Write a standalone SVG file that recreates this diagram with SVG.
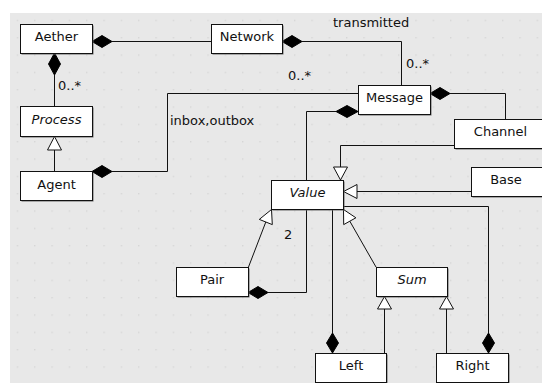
<svg xmlns="http://www.w3.org/2000/svg" width="542" height="383" viewBox="0 0 542 383">
<style>
.box{fill:#fff;stroke:#111;stroke-width:1}
.sh{fill:#666}
.t{font-family:"DejaVu Sans",sans-serif;font-size:13px;fill:#111;text-anchor:middle}
.i{font-style:italic}
.lbl{font-family:"DejaVu Sans",sans-serif;font-size:13px;fill:#111}
.ln{fill:none;stroke:#111;stroke-width:1}
.dia{fill:#000;stroke:#000;stroke-width:1}
.gen{fill:#fff;stroke:#111;stroke-width:1}
</style>
<defs>
<pattern id="grid" x="10" y="13" width="17.33" height="17.33" patternUnits="userSpaceOnUse">
<rect x="7" y="7" width="1" height="1" fill="#c4c4c4"/>
</pattern>
</defs>
<rect x="0" y="0" width="542" height="383" fill="#fff"/>
<rect x="10" y="13" width="532" height="370" fill="#e8e8e8"/>
<rect x="10" y="13" width="532" height="370" fill="url(#grid)"/>
<g id="connectors">
<path class="ln" d="M112,41.5 H211"/>
<polygon class="dia" points="92,41.5 102,35.5 112,41.5 102,47.5"/>
<path class="ln" d="M302,41.5 H401.5 V85"/>
<polygon class="dia" points="282,41.5 292,35.5 302,41.5 292,47.5"/>
<path class="ln" d="M54.5,75 V106"/>
<polygon class="dia" points="54.5,53 60.5,64 54.5,75 48.5,64"/>
<path class="ln" d="M54.5,150 V171"/>
<polygon class="gen" points="54.5,136.5 61.5,150 47.5,150"/>
<path class="ln" d="M112,171.5 H167.5 V93.5 H358"/>
<polygon class="dia" points="92,171.5 102,165.5 112,171.5 102,177.5"/>
<path class="ln" d="M336,111.5 H306.5 V180"/>
<polygon class="dia" points="358,111.5 347,105.5 336,111.5 347,117.5"/>
<path class="ln" d="M268,292.5 H306.5 V209"/>
<polygon class="dia" points="248,292.5 258,286.5 268,292.5 258,298.5"/>
<path class="ln" d="M450,93.5 H505.5 V119"/>
<polygon class="dia" points="430,93.5 440,87.5 450,93.5 440,99.5"/>
<path class="ln" d="M454,145.5 H340.5 V167"/>
<polygon class="gen" points="340.5,180 333.5,167 347.5,167"/>
<path class="ln" d="M471,191.5 H357"/>
<polygon class="gen" points="343.5,191.5 357,184.5 357,198.5"/>
<path class="ln" d="M343,206.5 H488.5 V333"/>
<polygon class="dia" points="488.5,353 482.5,343 488.5,333 494.5,343"/>
<path class="ln" d="M332.5,209 V333"/>
<polygon class="dia" points="332.5,353 326.5,343 332.5,333 338.5,343"/>
<path class="ln" d="M265.8,222 L248.5,267"/>
<polygon class="gen" points="271.5,209.5 272.3,224.6 259.3,219.4"/>
<path class="ln" d="M349.8,221.2 L376,267"/>
<polygon class="gen" points="343.5,209.5 355.9,217.8 343.7,224.6"/>
<path class="ln" d="M384.5,309 V353"/>
<polygon class="gen" points="384.5,296.5 391.5,309 377.5,309"/>
<path class="ln" d="M446.5,309 V353"/>
<polygon class="gen" points="446.5,296.5 453.5,309 439.5,309"/>
</g>
<g id="labels">
<text class="lbl" x="58" y="90">0..*</text>
<text class="lbl" x="333" y="27">transmitted</text>
<text class="lbl" x="406" y="68">0..*</text>
<text class="lbl" x="288" y="80">0..*</text>
<text class="lbl" x="170" y="125">inbox,outbox</text>
<text class="lbl" x="284" y="239">2</text>
</g>
<g id="Aether"><rect class="sh" x="21.5" y="25.5" width="72" height="29"/><rect class="box" x="20.5" y="24.5" width="72" height="29"/><text class="t" x="56.5" y="41">Aether</text></g>
<g id="Network"><rect class="sh" x="212.5" y="25.5" width="71" height="29"/><rect class="box" x="211.5" y="24.5" width="71" height="29"/><text class="t" x="247" y="41">Network</text></g>
<g id="Process"><rect class="sh" x="21.5" y="107.5" width="72" height="30"/><rect class="box" x="20.5" y="106.5" width="72" height="30"/><text class="t i" x="56.5" y="124">Process</text></g>
<g id="Agent"><rect class="sh" x="21.5" y="172.5" width="72" height="29"/><rect class="box" x="20.5" y="171.5" width="72" height="29"/><text class="t" x="56.5" y="189">Agent</text></g>
<g id="Message"><rect class="sh" x="359.5" y="86.5" width="72" height="29"/><rect class="box" x="358.5" y="85.5" width="72" height="29"/><text class="t" x="394.5" y="102">Message</text></g>
<g id="Channel"><rect class="sh" x="455.5" y="120.5" width="92" height="29"/><rect class="box" x="454.5" y="119.5" width="92" height="29"/><text class="t" x="500.5" y="136">Channel</text></g>
<g id="Base"><rect class="sh" x="472.5" y="168.5" width="72" height="29"/><rect class="box" x="471.5" y="167.5" width="72" height="29"/><text class="t" x="506" y="184">Base</text></g>
<g id="Value"><rect class="sh" x="272.5" y="181.5" width="72" height="29"/><rect class="box" x="271.5" y="180.5" width="72" height="29"/><text class="t i" x="307.5" y="197">Value</text></g>
<g id="Pair"><rect class="sh" x="177.5" y="268.5" width="72" height="29"/><rect class="box" x="176.5" y="267.5" width="72" height="29"/><text class="t" x="212" y="284">Pair</text></g>
<g id="Sum"><rect class="sh" x="377.5" y="268.5" width="71" height="29"/><rect class="box" x="376.5" y="267.5" width="71" height="29"/><text class="t i" x="412" y="284">Sum</text></g>
<g id="Left"><rect class="sh" x="316.5" y="354.5" width="71" height="29"/><rect class="box" x="315.5" y="353.5" width="71" height="29"/><text class="t" x="351" y="370">Left</text></g>
<g id="Right"><rect class="sh" x="437.5" y="354.5" width="72" height="29"/><rect class="box" x="436.5" y="353.5" width="72" height="29"/><text class="t" x="472.5" y="370">Right</text></g>
</svg>
